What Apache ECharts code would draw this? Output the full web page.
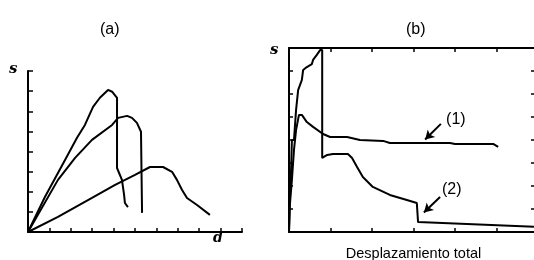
<!DOCTYPE html>
<html lang="es">
<head>
    <meta charset="UTF-8">
    <title>Curvas s-d</title>
    <style>
        html, body {
            margin: 0;
            padding: 0;
            background: #fff;
        }
        #chart {
            width: 534px;
            height: 260px;
        }
    </style>
</head>
<body>
<div id="chart"></div>
<script src="https://cdn.jsdelivr.net/npm/echarts@6/dist/echarts.min.js"></script>
<script>
    // (a) tres curvas s-d, [d, s]
    var curveA1 = [[0, 0], [0.79, 1.74], [1.73, 3.58], [2.29, 4.68], [2.66, 5.32], [3.04, 6.22], [3.36, 6.67],
        [3.74, 7.06], [3.93, 6.97], [4.16, 6.67], [4.16, 3.18], [4.39, 2.59], [4.49, 1.84], [4.53, 1.44], [4.67, 1.24]];
    var curveA2 = [[0, 0], [1.40, 2.59], [2.20, 3.68], [2.99, 4.58], [3.93, 5.32], [4.21, 5.67], [4.63, 5.77],
        [4.86, 5.67], [5.09, 5.42], [5.28, 4.98], [5.33, 4.93], [5.33, 0.95]];
    var curveA3 = [[0, 0], [1.40, 0.75], [2.99, 1.69], [4.07, 2.34], [5.0, 2.84], [5.70, 3.23], [6.31, 3.23],
        [6.73, 2.99], [6.96, 2.59], [7.20, 2.09], [7.43, 1.69], [7.90, 1.34], [8.50, 0.85]];

    // (b) desplazamiento total, [x, s]
    var curveB1 = [[0, 0], [0.02, 1.17], [0.07, 2.26], [0.12, 3.57], [0.17, 4.43], [0.24, 5.09], [0.31, 5.09],
        [0.43, 4.78], [0.58, 4.57], [0.82, 4.26], [0.99, 4.13], [1.40, 4.13], [1.71, 4.0], [2.27, 3.96],
        [2.43, 3.87], [3.88, 3.87], [4.0, 3.83], [4.92, 3.83], [5.04, 3.70]];
    var curveB2 = [[0, 0], [0.02, 1.39], [0.05, 2.70], [0.07, 4.0], [0.12, 4.0], [0.17, 5.30], [0.22, 6.17],
        [0.31, 6.61], [0.34, 7.04], [0.43, 7.17], [0.55, 7.30], [0.58, 7.48], [0.67, 7.70], [0.75, 7.91],
        [0.80, 7.91], [0.80, 3.22], [0.92, 3.35], [1.06, 3.39], [1.42, 3.39], [1.52, 3.22], [1.64, 2.83],
        [1.78, 2.39], [2.02, 1.96], [2.43, 1.61], [2.84, 1.39], [3.08, 1.26], [3.11, 0.43], [6, 0.22]];

    // flechas y etiquetas de (b)
    var arrowLabels = ['(1)', '(2)'];
    var arrowFrom = [[3.66, 4.70], [3.64, 1.52]];
    var arrowTo = [[3.28, 4.02], [3.25, 0.85]];
    var labelPos = [[4.02, 4.90], [3.92, 1.85]];

    var black = '#000';
    var lineW = 2;

    var makeLine = function (data, xi, yi) {
        return {
            type: 'line',
            xAxisIndex: xi,
            yAxisIndex: yi,
            data: data,
            showSymbol: false,
            symbol: 'none',
            silent: true,
            lineStyle: {color: black, width: lineW}
        };
    };

    var tickOnly = function (extra, tickLen) {
        var ax = {
            type: 'value',
            axisLine: {show: true, onZero: false, lineStyle: {color: black, width: 2}},
            axisTick: {show: true, inside: true, length: tickLen || 4, lineStyle: {color: black, width: 1.5}},
            axisLabel: {show: false},
            splitLine: {show: false}
        };
        for (var k in extra) ax[k] = extra[k];
        return ax;
    };

    var arrowLines = arrowFrom.map(function (p, i) {
        return [{coord: p, symbol: 'none'}, {coord: arrowTo[i], symbol: 'arrow', symbolSize: [8, 9]}];
    });
    var labelPoints = labelPos.map(function (p, i) {
        return {coord: p, value: arrowLabels[i]};
    });

    var seriesB1 = makeLine(curveB1, 1, 1);
    seriesB1.markLine = {
        silent: true,
        animation: false,
        symbol: ['none', 'arrow'],
        lineStyle: {color: black, width: 2, type: 'solid'},
        label: {show: false},
        data: arrowLines
    };
    seriesB1.markPoint = {
        silent: true,
        animation: false,
        symbol: 'circle',
        symbolSize: 1,
        itemStyle: {color: 'rgba(0,0,0,0)'},
        label: {
            show: true,
            position: 'inside',
            formatter: function (p) { return p.value; },
            color: black,
            fontFamily: 'Liberation Sans',
            fontSize: 16
        },
        data: labelPoints
    };

    var titleFont = {fontFamily: 'Liberation Sans', fontSize: 16, fontWeight: 'normal', color: black};

    var option = {
        animation: false,
        backgroundColor: '#fff',
        title: [
            {text: '(a)', left: 95, top: 17, textStyle: titleFont},
            {text: '(b)', left: 401, top: 17, textStyle: titleFont}
        ],
        grid: [
            {left: 28, top: 71, width: 214, height: 161, outerBoundsMode: 'none', containLabel: false},
            {left: 289, top: 48, width: 249, height: 184, outerBoundsMode: 'none', containLabel: false}
        ],
        xAxis: [
            tickOnly({gridIndex: 0, min: 0, max: 10, interval: 1}),
            tickOnly({gridIndex: 1, min: 0, max: 6, interval: 1,
                name: 'Desplazamiento total', nameLocation: 'middle', nameGap: 14,
                nameTextStyle: {fontFamily: 'Liberation Sans', fontSize: 14.5, color: black, verticalAlign: 'top'}}),
            tickOnly({gridIndex: 1, min: 0, max: 6, interval: 1, position: 'top'})
        ],
        yAxis: [
            tickOnly({gridIndex: 0, min: 0, max: 8, interval: 1}, 5),
            tickOnly({gridIndex: 1, min: 0, max: 8, interval: 1}),
            tickOnly({gridIndex: 1, min: 0, max: 8, interval: 1, position: 'right'}, 7)
        ],
        graphic: [
            {type: 'text', left: 9, top: 62, style: {text: 's', fontFamily: 'DejaVu Serif', fontStyle: 'italic', fontWeight: 'bold', fontSize: 15, fill: black}},
            {type: 'text', left: 213, top: 231, style: {text: 'd', fontFamily: 'DejaVu Serif', fontStyle: 'italic', fontWeight: 'bold', fontSize: 14, fill: black}},
            {type: 'text', left: 270, top: 43, style: {text: 's', fontFamily: 'DejaVu Serif', fontStyle: 'italic', fontWeight: 'bold', fontSize: 15, fill: black}}
        ],
        series: [
            makeLine(curveA1, 0, 0),
            makeLine(curveA2, 0, 0),
            makeLine(curveA3, 0, 0),
            seriesB1,
            makeLine(curveB2, 1, 1)
        ]
    };

    var myChart = echarts.init(document.getElementById('chart'));
    myChart.setOption(option);
</script>
</body>
</html>
